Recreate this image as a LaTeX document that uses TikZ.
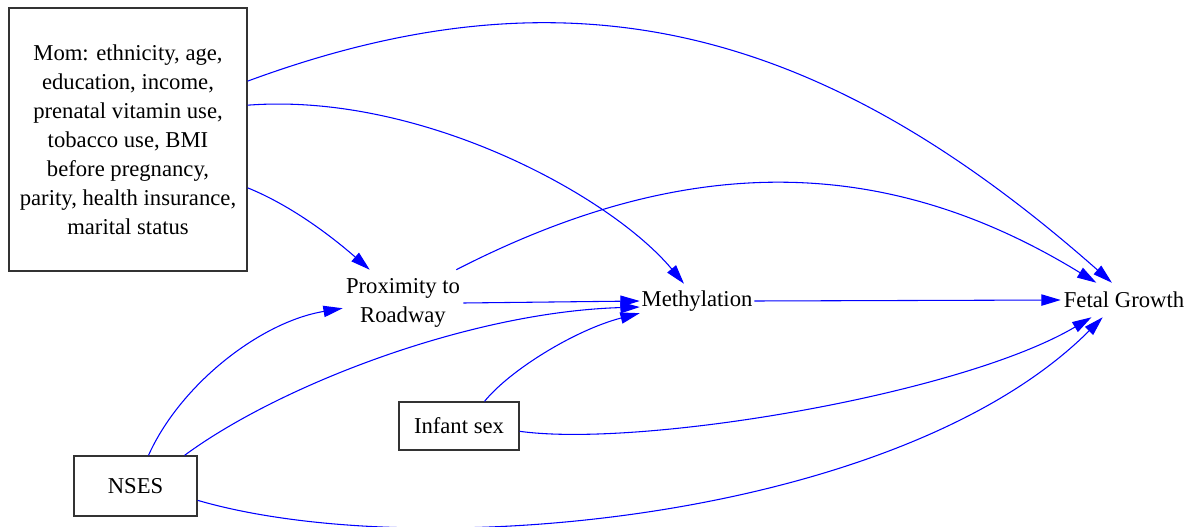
\documentclass[tikz,border=0pt]{standalone}
\usepackage{fontspec}
\setmainfont{Liberation Serif}
\usetikzlibrary{arrows.meta}

\begin{document}
\begin{tikzpicture}[x=0.75pt, y=-0.75pt,
    every node/.style={font=\fontsize{17}{21.75}\selectfont},
    box/.style={draw=black!80, line width=1pt, align=center, inner sep=0pt},
    lbl/.style={align=center, inner sep=0pt},
    edge/.style={blue, line width=0.8pt, -{Triangle[length=14.5pt,width=8.5pt]}}]
  \useasboundingbox (0,0) rectangle (1195,527);
  % Variables
  \node[box, minimum width=178.5pt, minimum height=197.25pt] (mom) at (128,139.5)
    {Mom: ethnicity, age,\\education, income,\\prenatal vitamin use,\\tobacco use, BMI\\before pregnancy,\\parity, health insurance,\\marital status};
  \node[lbl, minimum width=90pt, minimum height=49.5pt] (prox) at (403,303) {Proximity to\\Roadway};
  \node[lbl, minimum width=85.5pt, minimum height=25.5pt] (meth) at (697,301) {Methylation};
  \node[lbl, minimum width=94.5pt, minimum height=25.5pt] (fg) at (1124,300) {Fetal Growth};
  \node[box, minimum width=90pt, minimum height=36pt] (infant) at (459,426) {Infant sex};
  \node[box, minimum width=92.25pt, minimum height=45pt] (nses) at (135.5,486) {NSES};
  % Paths from the mother's covariates
  \draw[edge] (mom.26) .. controls (570,-38) and (820,25) .. (fg.125);
  \draw[edge] (mom.16) .. controls (420,92) and (610,195) .. (meth.127);
  \draw[edge] (mom.338) .. controls (290,205) and (330,235) .. (prox.135);
  % Main chain
  \draw[edge] (prox.32) .. controls (680,155) and (880,150) .. (fg.148);
  \draw[edge] (prox.east) -- (meth.west);
  \draw[edge] (meth.east) -- (fg.west);
  % NSES and infant sex
  \draw[edge] (nses.67) .. controls (180,385) and (260,322) .. (prox.185);
  \draw[edge] (nses.32) .. controls (280,385) and (470,312) .. (meth.186);
  \draw[edge] (infant.44) .. controls (510,370) and (575,330) .. (meth.192);
  \draw[edge] (infant.355) .. controls (640,448) and (960,395) .. (fg.208);
  \draw[edge] (nses.347) .. controls (420,565) and (900,520) .. (fg.219);
\end{tikzpicture}
\end{document}
